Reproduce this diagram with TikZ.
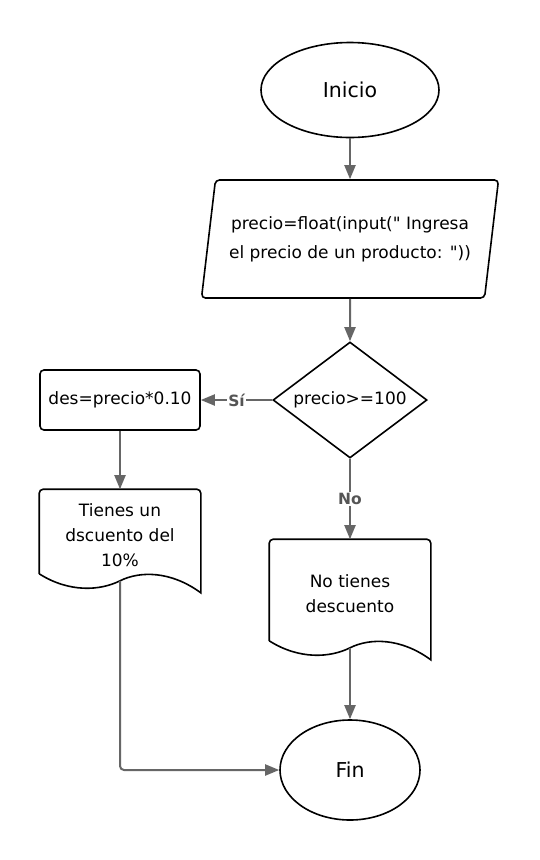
\documentclass[tikz,border=0pt]{standalone}
\usepackage{fontspec}
\setmainfont{DejaVu Sans}[Ligatures=TeXOff]
\usetikzlibrary{shapes.geometric,arrows.meta}

\definecolor{arrowgray}{HTML}{666666}
\definecolor{labelgray}{HTML}{555555}

\tikzset{
  flow/.style={draw=black, line width=1.6pt, align=center, font=\fontsize{17}{25}\selectfont},
  term/.style={flow, ellipse, inner sep=0pt, font=\fontsize{20.5}{25}\selectfont},
  proc/.style={flow, rectangle, rounded corners=4pt, minimum width=160pt, minimum height=60pt},
  io/.style={flow, trapezium, trapezium left angle=75, trapezium right angle=105,
    trapezium stretches body, rounded corners=4pt, minimum width=297pt, minimum height=118pt,
    font=\fontsize{17}{29}\selectfont},
  cond/.style={flow, diamond, aspect=1.33, inner sep=0pt, minimum width=154pt, minimum height=116pt},
  doc/.style={flow, draw=none, rectangle, minimum width=160pt},
  arrow/.style={draw=arrowgray, line width=2pt, -{Triangle[length=14pt,width=11pt]}},
  lbl/.style={fill=white, inner sep=1.5pt, text=labelgray, font=\fontsize{15.5}{18}\selectfont\bfseries}
}

% document outline: straight top, wavy bottom through #1.south
\newcommand{\docoutline}[1]{%
  \draw[line width=1.6pt] ([yshift=7pt]#1.south west) [rounded corners=4pt] -- (#1.north west)
    -- (#1.north east) [sharp corners] -- ([yshift=-12pt]#1.south east)
    .. controls ([xshift=-30pt,yshift=10pt]#1.south east) and ([xshift=20pt,yshift=10pt]#1.south) .. (#1.south)
    .. controls ([xshift=-20pt,yshift=-10pt]#1.south) and ([xshift=30pt,yshift=-12pt]#1.south west) .. ([yshift=7pt]#1.south west);
}

\begin{document}
\begin{tikzpicture}[x=1pt, y=-1pt]
    \fill[white] (0,0) rectangle (540,860);
    \useasboundingbox (0,0) rectangle (540,860);

    \node[term, minimum width=178pt, minimum height=95pt] (inicio) at (350,90) {Inicio};
    \node[io] (leer) at (350,239) {precio=float(input(" Ingresa\\el precio de un producto: "))};
    \node[cond] (dec) at (350,400) {precio>=100};
    \node[proc] (des) at (120,400) {des=precio*0.10};
    \node[doc, minimum height=90pt] (msgsi) at (120,535) {Tienes un\\dscuento del\\10\%};
    \node[doc, minimum height=107pt] (msgno) at (350,593.5) {No tienes\\descuento};
    \node[term, minimum width=140pt, minimum height=100pt] (fin) at (350,770) {Fin};
    \docoutline{msgsi}
    \docoutline{msgno}

    \draw[arrow] (inicio) -- (leer);
    \draw[arrow] (leer) -- (dec);
    \draw[arrow] (dec) -- node[lbl] {Sí} (des);
    \draw[arrow] (dec) -- node[lbl] {No} (msgno);
    \draw[arrow] (des) -- (msgsi);
    \draw[arrow] (msgno) -- (fin);
    \draw[arrow, rounded corners=4pt] (msgsi.south) |- (fin.west);
\end{tikzpicture}
\end{document}
